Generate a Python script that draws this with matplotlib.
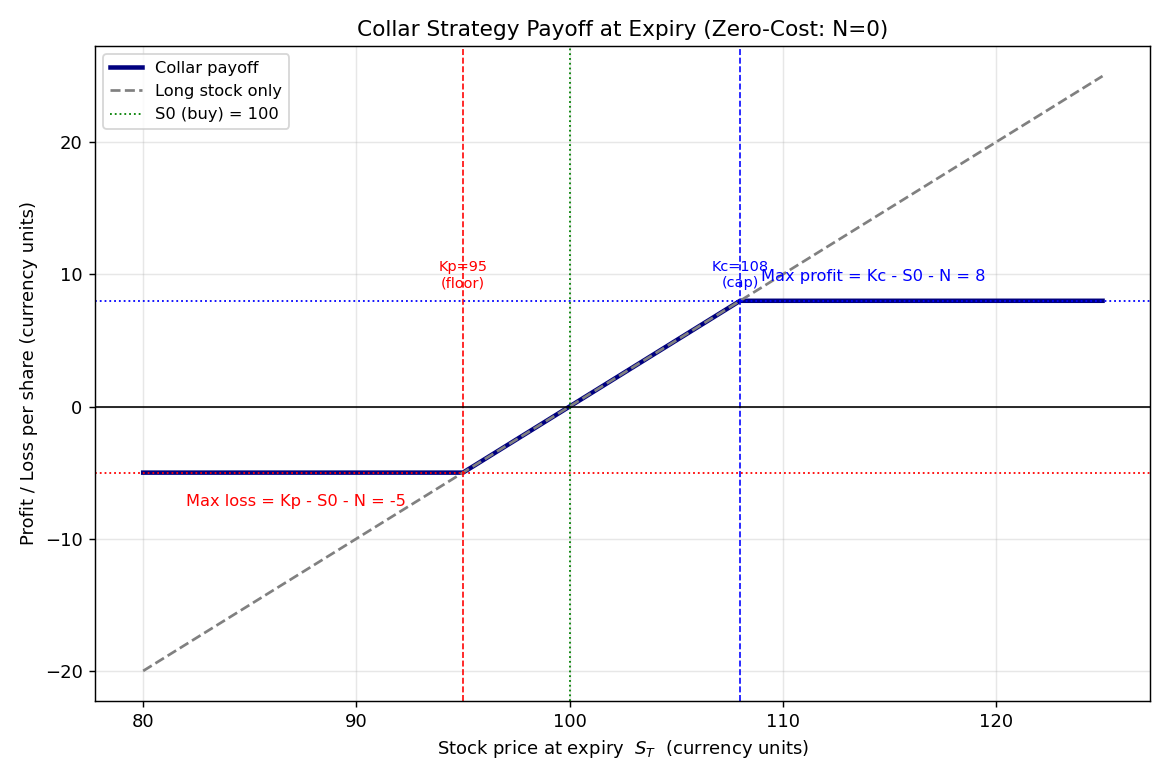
import numpy as np
import matplotlib.pyplot as plt

# strikes / prices
S0 = 100
Kp = 95
Kc = 108
N = 0

# payoff breakpoints
prices = [80, 95, 108, 125]
collar = [-5, -5, 8, 8]
stock = [-20, -5, 8, 25]

max_loss = Kp - S0 - N
max_profit = Kc - S0 - N

fig, ax = plt.subplots(figsize=(9, 6), dpi=130)

ax.plot(prices, collar, color='navy', lw=2.5, label='Collar payoff')
ax.plot(prices, stock, color='gray', ls='--', lw=1.5, label='Long stock only')
ax.axvline(S0, color='green', ls=':', lw=1, label='S0 (buy) = 100')
ax.axvline(Kp, color='red', ls='--', lw=0.9)
ax.axvline(Kc, color='blue', ls='--', lw=0.9)
ax.axhline(0, color='black', lw=0.9)
ax.axhline(max_loss, color='red', ls=':', lw=1)
ax.axhline(max_profit, color='blue', ls=':', lw=1)

ax.text(Kp, 8.8, 'Kp=95\n(floor)', color='red', ha='center', va='bottom', fontsize=8)
ax.text(Kc, 8.8, 'Kc=108\n(cap)', color='blue', ha='center', va='bottom', fontsize=8)
ax.text(109, 9.5, 'Max profit = Kc - S0 - N = 8', color='blue', fontsize=9)
ax.text(82, -7.5, 'Max loss = Kp - S0 - N = -5', color='red', fontsize=9)

ax.set_title('Collar Strategy Payoff at Expiry (Zero-Cost: N=0)', fontsize=12)
ax.set_xlabel('Stock price at expiry  $S_T$  (currency units)')
ax.set_ylabel('Profit / Loss per share (currency units)')
ax.grid(True, alpha=0.3)
ax.legend(loc='upper left', fontsize=9)

plt.tight_layout()
plt.savefig('out.png')
